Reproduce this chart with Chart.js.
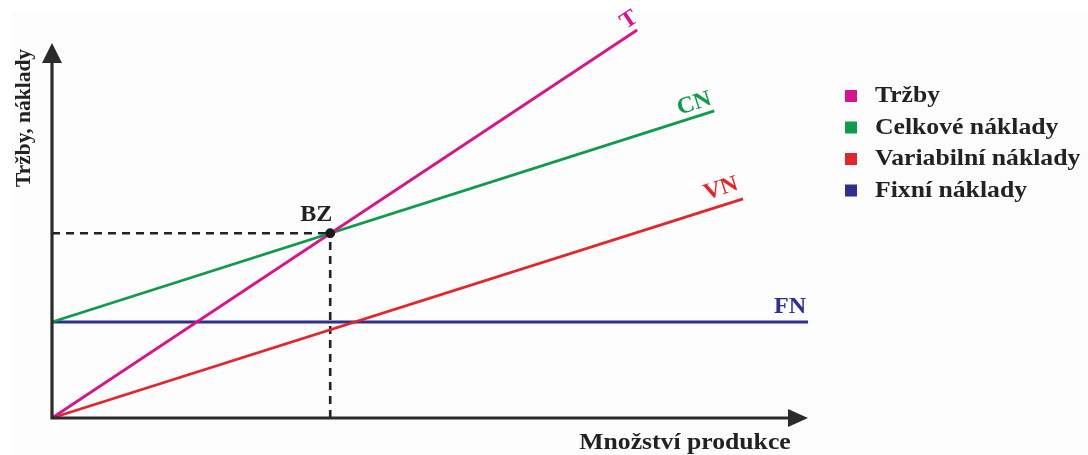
<!DOCTYPE html>
<html>
<head>
<meta charset="utf-8">
<script src="https://cdn.jsdelivr.net/npm/chart.js@4.4.1/dist/chart.umd.min.js"></script>
<style>
  html, body { margin: 0; padding: 0; background: #ffffff; }
  #wrap { width: 1088px; height: 455px; position: relative; }
</style>
</head>
<body>
<div id="wrap"><canvas id="chart" width="1088" height="455"></canvas></div>
<script>
// Quantity (x) and amount (y) in abstract units 0..100
const seriesNames = ['Tržby', 'Celkové náklady', 'Variabilní náklady', 'Fixní náklady'];
const lineTags = ['T', 'CN', 'VN', 'FN'];
const colors = ['#d4168c', '#109a4c', '#e0282c', '#2e2f8e'];

const revenueX = [0, 77.4];
const revenueY = [0, 97];
const totalCostX = [0, 87.6];
const totalCostY = [24, 76.8];
const variableCostX = [0, 91.4];
const variableCostY = [0, 54.8];
const fixedCostX = [0, 100];
const fixedCostY = [24, 24];

const breakEvenX = [36.8];
const breakEvenY = [46.2];

const xAxisTitle = 'Množství produkce';
const yAxisTitle = 'Tržby, náklady';

function pts(xs, ys) {
    return xs.map((x, i) => ({ x: x, y: ys[i] }));
}

const lineSets = [
    pts(revenueX, revenueY),
    pts(totalCostX, totalCostY),
    pts(variableCostX, variableCostY),
    pts(fixedCostX, fixedCostY)
];

const datasets = lineSets.map((data, i) => ({
    label: seriesNames[i],
    data: data,
    showLine: true,
    borderColor: colors[i],
    backgroundColor: colors[i],
    borderWidth: 2.8,
    pointRadius: 0,
    order: 2
}));

// dashed guides to the break-even point
datasets.push({
    label: 'guideH',
    data: [{ x: 0, y: breakEvenY[0] }, { x: breakEvenX[0], y: breakEvenY[0] }],
    showLine: true,
    borderColor: '#222',
    borderWidth: 2.6,
    borderDash: [8, 6],
    pointRadius: 0,
    order: 3
});
datasets.push({
    label: 'guideV',
    data: [{ x: breakEvenX[0], y: 0 }, { x: breakEvenX[0], y: breakEvenY[0] }],
    showLine: true,
    borderColor: '#222',
    borderWidth: 2.6,
    borderDash: [8, 6],
    pointRadius: 0,
    order: 3
});
datasets.push({
    label: 'BZ',
    data: pts(breakEvenX, breakEvenY),
    showLine: false,
    pointRadius: 4.5,
    backgroundColor: '#1a1a1a',
    borderColor: '#1a1a1a',
    order: 1
});

function serif(size) {
    return 'bold ' + size + 'px "Liberation Serif", "DejaVu Serif", serif';
}

// draws text slightly widened like the source picture
function wideText(ctx, text, x, y, size, color, align, stretch) {
    ctx.save();
    ctx.translate(x, y);
    ctx.scale(stretch || 1.07, 1);
    ctx.font = serif(size);
    ctx.fillStyle = color;
    ctx.textAlign = align || 'center';
    ctx.textBaseline = 'middle';
    ctx.fillText(text, 0, 0);
    ctx.restore();
}

const backdrop = {
    id: 'backdrop',
    beforeDraw(chart) {
        const ctx = chart.ctx;
        ctx.save();
        ctx.fillStyle = '#fcfcfc';
        ctx.fillRect(12, 13, chart.width - 12, chart.height - 13);
        ctx.restore();
    }
};

const decorations = {
    id: 'decorations',
    afterDatasetsDraw(chart) {
        const ctx = chart.ctx;
        const xs = chart.scales.x, ys = chart.scales.y;
        const x0 = xs.getPixelForValue(0), y0 = ys.getPixelForValue(0);
        const xEnd = xs.getPixelForValue(100);
        const yTop = 43;

        ctx.save();
        // axes
        ctx.strokeStyle = '#2b2b2b';
        ctx.fillStyle = '#2b2b2b';
        ctx.lineWidth = 3.2;
        ctx.beginPath();
        ctx.moveTo(x0, y0 + 1.6);
        ctx.lineTo(x0, yTop + 10);
        ctx.moveTo(x0 - 1.6, y0);
        ctx.lineTo(xEnd - 10, y0);
        ctx.stroke();
        // arrow heads
        ctx.beginPath();
        ctx.moveTo(x0, yTop);
        ctx.lineTo(x0 - 10, yTop + 20);
        ctx.lineTo(x0 + 10, yTop + 20);
        ctx.closePath();
        ctx.fill();
        ctx.beginPath();
        ctx.moveTo(xEnd, y0);
        ctx.lineTo(xEnd - 20, y0 - 9);
        ctx.lineTo(xEnd - 20, y0 + 9);
        ctx.closePath();
        ctx.fill();

        // axis titles
        wideText(ctx, xAxisTitle, 685, 443, 24, '#222', 'center', 1.07);
        ctx.save();
        ctx.translate(24, 118);
        ctx.rotate(-Math.PI / 2);
        wideText(ctx, yAxisTitle, 0, 0, 21.5, '#222', 'center', 1.0);
        ctx.restore();

        // line tags at end points
        const tagOffsets = [[-8, -10], [-20, -7], [-22, -10], [-18, -15]];
        lineSets.forEach((data, i) => {
            const a = data[0], b = data[data.length - 1];
            const px1 = xs.getPixelForValue(a.x), py1 = ys.getPixelForValue(a.y);
            const px2 = xs.getPixelForValue(b.x), py2 = ys.getPixelForValue(b.y);
            const ang = Math.atan2(py2 - py1, px2 - px1);
            ctx.save();
            ctx.translate(px2 + tagOffsets[i][0], py2 + tagOffsets[i][1]);
            ctx.rotate(ang);
            wideText(ctx, lineTags[i], 0, 0, 23, colors[i], 'center', 1.05);
            ctx.restore();
        });

        // break-even label
        const bx = xs.getPixelForValue(breakEvenX[0]), by = ys.getPixelForValue(breakEvenY[0]);
        wideText(ctx, 'BZ', bx - 14, by - 18, 24, '#222', 'center', 1.0);

        // legend
        seriesNames.forEach((name, i) => {
            const ly = 96 + i * 31.5;
            ctx.fillStyle = colors[i];
            ctx.fillRect(845, ly - 6, 12, 12);
            wideText(ctx, name, 875, ly, 24, '#222', 'left', 1.07);
        });
        ctx.restore();
    }
};

const chart = new Chart(document.getElementById('chart'), {
    type: 'scatter',
    data: { datasets: datasets },
    options: {
        responsive: false,
        animation: false,
        clip: false,
        layout: { padding: { left: 52, right: 280, top: 18, bottom: 37 } },
        scales: {
            x: { type: 'linear', min: 0, max: 100, display: false },
            y: { type: 'linear', min: 0, max: 100, display: false }
        },
        plugins: {
            legend: { display: false },
            tooltip: { enabled: false }
        }
    },
    plugins: [backdrop, decorations]
});
</script>
</body>
</html>
